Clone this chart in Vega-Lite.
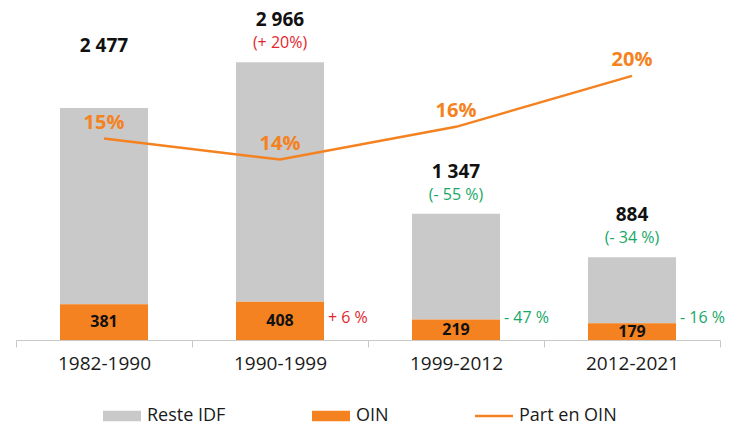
{
  "$schema": "https://vega.github.io/schema/vega-lite/v6.json",
  "width": 704,
  "height": 340,
  "autosize": {"type": "none"},
  "padding": {"left": 16, "top": 0, "right": 11, "bottom": 85},
  "config": {
    "view": {"stroke": null},
    "font": "Open Sans",
    "locale": {"number": {"decimal": ",", "thousands": " ", "grouping": [3], "currency": ["", " €"]}}
  },
  "datasets": {
    "bars": [
      {"period": "1982-1990", "series": "Reste IDF", "value": 2096},
      {"period": "1982-1990", "series": "OIN", "value": 381},
      {"period": "1990-1999", "series": "Reste IDF", "value": 2558},
      {"period": "1990-1999", "series": "OIN", "value": 408},
      {"period": "1999-2012", "series": "Reste IDF", "value": 1128},
      {"period": "1999-2012", "series": "OIN", "value": 219},
      {"period": "2012-2021", "series": "Reste IDF", "value": 705},
      {"period": "2012-2021", "series": "OIN", "value": 179}
    ],
    "periods": [
      {"period": "1982-1990", "total": 2477, "oin": 381, "share": 0.154, "total_chg": "", "oin_chg": "", "trend": "none"},
      {"period": "1990-1999", "total": 2966, "oin": 408, "share": 0.138, "total_chg": "(+ 20%)", "oin_chg": "+ 6 %", "trend": "up"},
      {"period": "1999-2012", "total": 1347, "oin": 219, "share": 0.163, "total_chg": "(- 55 %)", "oin_chg": "- 47 %", "trend": "down"},
      {"period": "2012-2021", "total": 884, "oin": 179, "share": 0.202, "total_chg": "(- 34 %)", "oin_chg": "- 16 %", "trend": "down"}
    ]
  },
  "encoding": {
    "x": {
      "field": "period",
      "type": "nominal",
      "sort": null,
      "scale": {"paddingInner": 0, "paddingOuter": 0},
      "axis": {
        "title": null,
        "labelAngle": 0,
        "labelFont": "Open Sans",
        "labelFontSize": 19,
        "labelColor": "#1a1a1a",
        "labelPadding": 7,
        "tickBand": "extent",
        "tickSize": 7,
        "tickColor": "#c8c8c8",
        "tickWidth": 1,
        "domainColor": "#c8c8c8",
        "domainWidth": 1
      }
    }
  },
  "layer": [
    {
      "data": {"name": "bars"},
      "mark": {"type": "bar", "width": {"band": 0.5}},
      "encoding": {
        "y": {"field": "value", "type": "quantitative", "stack": "zero", "scale": {"domain": [0, 3630], "nice": false}, "axis": null},
        "order": {"field": "series", "sort": "ascending"},
        "color": {
          "field": "series",
          "type": "nominal",
          "scale": {"domain": ["Reste IDF", "OIN", "Part en OIN"], "range": ["#c9c9c9", "#f58220", "#f58220"]},
          "legend": {
            "orient": "none",
            "legendX": 87,
            "legendY": 397,
            "direction": "horizontal",
            "title": null,
            "symbolSize": 1444,
            "symbolStrokeWidth": 0,
            "symbolOpacity": 1,
            "labelFont": "Open Sans",
            "labelFontSize": 18,
            "labelColor": "#1a1a1a",
            "labelOffset": 6,
            "columnPadding": 86,
            "encoding": {
              "symbols": {
                "shape": {
                  "condition": {"test": "datum.value === 'Part en OIN'", "value": "M-1,-0.06H1V0.06H-1Z"},
                  "value": "M-1,-0.27H1V0.27H-1Z"
                }
              }
            }
          }
        }
      }
    },
    {
      "data": {"name": "periods"},
      "mark": {"type": "line", "color": "#f58220", "strokeWidth": 2.5},
      "encoding": {
        "y": {"field": "share", "type": "quantitative", "scale": {"domain": [0, 0.26], "nice": false}, "axis": null}
      }
    },
    {
      "data": {"name": "periods"},
      "mark": {"type": "text", "color": "#f58220", "fontWeight": "bold", "fontSize": 20, "baseline": "middle", "dy": -16},
      "encoding": {
        "y": {"field": "share", "type": "quantitative", "scale": {"domain": [0, 0.26], "nice": false}, "axis": null},
        "text": {"field": "share", "type": "quantitative", "format": ".0%"}
      }
    },
    {
      "data": {"name": "periods"},
      "mark": {"type": "text", "color": "#111111", "fontWeight": "bold", "fontSize": 16, "baseline": "middle"},
      "encoding": {
        "y": {"field": "oin", "type": "quantitative", "scale": {"domain": [0, 7260], "nice": false}, "axis": null},
        "text": {"field": "oin", "type": "quantitative", "format": ",d"}
      }
    },
    {
      "data": {"name": "periods"},
      "mark": {"type": "text", "color": "#111111", "fontWeight": "bold", "fontSize": 19, "baseline": "middle", "dy": {"expr": "datum.period === '1982-1990' ? -62 : -42"}},
      "encoding": {
        "y": {"field": "total", "type": "quantitative", "scale": {"domain": [0, 3630], "nice": false}, "axis": null},
        "text": {"field": "total", "type": "quantitative", "format": ",d"}
      }
    },
    {
      "data": {"name": "periods"},
      "mark": {"type": "text", "fontSize": 16, "baseline": "middle", "dy": -19},
      "encoding": {
        "y": {"field": "total", "type": "quantitative", "scale": {"domain": [0, 3630], "nice": false}, "axis": null},
        "text": {"field": "total_chg", "type": "nominal"},
        "color": {"condition": {"test": "datum.trend === 'up'", "value": "#e3262d"}, "value": "#17a866"}
      }
    },
    {
      "data": {"name": "periods"},
      "mark": {"type": "text", "fontSize": 16, "baseline": "middle", "align": "left", "dx": 48},
      "encoding": {
        "y": {"datum": 235, "type": "quantitative", "scale": {"domain": [0, 3630], "nice": false}, "axis": null},
        "text": {"field": "oin_chg", "type": "nominal"},
        "color": {"condition": {"test": "datum.trend === 'up'", "value": "#e3262d"}, "value": "#17a866"}
      }
    }
  ],
  "resolve": {"scale": {"y": "independent"}}
}
